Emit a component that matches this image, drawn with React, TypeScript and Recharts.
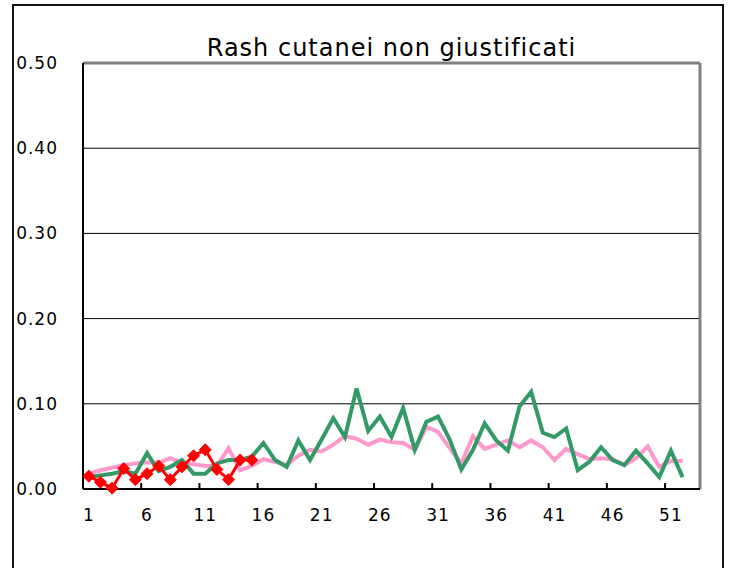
import React from 'react';
import { LineChart, Line, XAxis, YAxis, CartesianGrid, ReferenceLine } from 'recharts';

const chartTitle = 'Rash cutanei non giustificati';

const weeks = [
  1, 2, 3, 4, 5, 6, 7, 8, 9, 10, 11, 12, 13, 14, 15, 16, 17, 18, 19, 20,
  21, 22, 23, 24, 25, 26, 27, 28, 29, 30, 31, 32, 33, 34, 35, 36, 37, 38, 39, 40,
  41, 42, 43, 44, 45, 46, 47, 48, 49, 50, 51, 52, 53,
];

const pinkSeries = [
  0.018, 0.022, 0.025, 0.028, 0.030, 0.031, 0.031, 0.036, 0.031, 0.029,
  0.027, 0.027, 0.048, 0.022, 0.027, 0.035, 0.032, 0.028, 0.039, 0.046,
  0.044, 0.052, 0.062, 0.059, 0.052, 0.058, 0.055, 0.054, 0.046, 0.073,
  0.067, 0.048, 0.030, 0.062, 0.047, 0.052, 0.057, 0.049, 0.057, 0.049,
  0.034, 0.047, 0.041, 0.035, 0.036, 0.035, 0.028, 0.036, 0.050, 0.026,
  0.033, 0.033,
];

const greenSeries = [
  0.014, 0.016, 0.018, 0.021, 0.018, 0.042, 0.021, 0.026, 0.034, 0.018,
  0.018, 0.030, 0.034, 0.034, 0.038, 0.054, 0.034, 0.026, 0.057, 0.034,
  0.058, 0.083, 0.061, 0.118, 0.068, 0.085, 0.061, 0.095, 0.046, 0.079,
  0.085, 0.058, 0.023, 0.046, 0.077, 0.057, 0.045, 0.097, 0.114, 0.066,
  0.061, 0.071, 0.022, 0.032, 0.049, 0.034, 0.028, 0.045, 0.030, 0.014,
  0.045, 0.014,
];

const redSeries = [
  0.015, 0.008, 0.001, 0.024, 0.011, 0.018, 0.027, 0.011, 0.026, 0.039,
  0.046, 0.023, 0.011, 0.034, 0.034,
];

const xTickLabels = [1, 6, 11, 16, 21, 26, 31, 36, 41, 46, 51];
const yTicks = [0, 0.1, 0.2, 0.3, 0.4, 0.5];

const data = weeks.map((w, i) => ({
  week: w,
  pink: pinkSeries[i] ?? null,
  green: greenSeries[i] ?? null,
  red: redSeries[i] ?? null,
}));

// tick marks sit between categories (before each labelled week)
const tickMarkPositions = xTickLabels.slice(1).map((w) => w - 0.5);

const FONT = '"DejaVu Sans", sans-serif';

const Diamond = (props: any) => {
  const { cx, cy, index } = props;
  if (cx == null || cy == null || props.value == null) return <g key={`d-${index}`} />;
  const r = 6;
  return (
    <polygon
      key={`d-${index}`}
      points={`${cx},${cy - r} ${cx + r},${cy} ${cx},${cy + r} ${cx - r},${cy}`}
      fill="#FF0000"
      stroke="#FF0000"
      strokeWidth={1}
    />
  );
};

const tickStyle = { fill: '#000', fontSize: 17, fontFamily: FONT, letterSpacing: 1 };

export default function App() {
  return (
    <div
      style={{
        position: 'absolute',
        left: 0,
        top: 0,
        width: 732,
        height: 568,
        overflow: 'hidden',
        background: '#fff',
      }}
    >
      <div
        style={{
          position: 'absolute',
          left: 12,
          top: 4,
          width: 708,
          height: 620,
          border: '2px solid #111',
        }}
      />
      <div
        style={{
          position: 'absolute',
          left: 83,
          width: 617,
          top: 33,
          textAlign: 'center',
          fontFamily: FONT,
          fontSize: 24,
          letterSpacing: 1,
          lineHeight: '30px',
          color: '#000',
          whiteSpace: 'nowrap',
        }}
      >
        {chartTitle}
      </div>
      <div style={{ position: 'absolute', left: 0, top: 0 }}>
        <LineChart
          width={732}
          height={568}
          data={data}
          margin={{ top: 63, right: 32, bottom: 39, left: 13 }}
        >
          <CartesianGrid vertical={false} stroke="#000" strokeWidth={1} fill="#fff" fillOpacity={1} />
          <XAxis
            dataKey="week"
            type="number"
            domain={[0.5, 53.5]}
            ticks={xTickLabels}
            interval={0}
            height={40}
            tickLine={false}
            tickSize={0}
            tickMargin={20}
            axisLine={{ stroke: '#000', strokeWidth: 2 }}
            tick={tickStyle}
          />
          <YAxis
            type="number"
            domain={[0, 0.5]}
            ticks={yTicks}
            width={70}
            tickLine={false}
            tickSize={0}
            tickMargin={25}
            axisLine={{ stroke: '#000', strokeWidth: 2 }}
            tickFormatter={(v: number) => v.toFixed(2)}
            tick={tickStyle}
          />
          <ReferenceLine y={0.5} stroke="#808080" strokeWidth={3} ifOverflow="visible" />
          <ReferenceLine x={53.5} stroke="#808080" strokeWidth={3} ifOverflow="visible" />
          {tickMarkPositions.map((p) => (
            <ReferenceLine
              key={`tm-${p}`}
              segment={[
                { x: p, y: 0 },
                { x: p, y: 0.007 },
              ]}
              stroke="#000"
              strokeWidth={2}
              ifOverflow="visible"
            />
          ))}
          <Line
            type="linear"
            dataKey="pink"
            stroke="#FF99CC"
            strokeWidth={4}
            dot={false}
            isAnimationActive={false}
          />
          <Line
            type="linear"
            dataKey="green"
            stroke="#339966"
            strokeWidth={4}
            dot={false}
            isAnimationActive={false}
          />
          <Line
            type="linear"
            dataKey="red"
            stroke="#FF0000"
            strokeWidth={3}
            dot={<Diamond />}
            activeDot={false}
            isAnimationActive={false}
          />
        </LineChart>
      </div>
    </div>
  );
}
